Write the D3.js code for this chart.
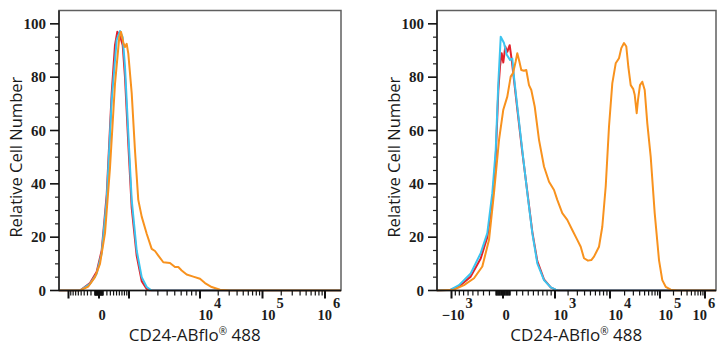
<!DOCTYPE html>
<html>
<head>
<meta charset="utf-8">
<script src="https://cdn.jsdelivr.net/npm/d3@7"></script>
<style>
  body { margin: 0; background: #fff; }
  svg { display: block; }
</style>
</head>
<body>
<script>
var width = 728,
    height = 350;

// fluorescence intensity (x) vs relative cell number (y)
var leftRed = [[-1500,0],[-540,0],[-227,2.8],[-54,7],[64,15],[195,36],[341,74],[447,92],[526,97],[624,95.5],[729,92],[823,80],[968,55],[1134,31],[1406,13],[1713,3.5],[2059,0.6],[2254,0],[1.8e6,0]];
var leftCyan = [[-1500,0],[-540,0],[-227,2.5],[-54,6.3],[64,14],[195,34],[341,71.5],[505,94],[624,97.3],[729,95],[823,84],[968,59],[1134,34],[1406,15],[1713,5],[2059,1.3],[2449,0],[1.8e6,0]];
var leftOrange = [[-1500,0],[-540,0],[-275,1.5],[-95,5],[23,10],[149,21.5],[289,46],[447,77.5],[598,95],[662,97],[753,93],[823,91.3],[896,92.5],[968,88.8],[1134,74],[1309,52.5],[1499,34],[1713,27.7],[2059,21.3],[2449,15.6],[2733,14.8],[3043,13.1],[3559,10.6],[4350,10.3],[5032,8.8],[5532,8.8],[6086,7.5],[6989,6],[8364,5.2],[10000,4.4],[12130,2.8],[15660,1.3],[21350,0.3],[30880,0],[1.8e6,0]];

var rightRed = [[-1450,0],[-1020,0.3],[-808,1.5],[-545,5.2],[-350,12],[-235,20],[-155,33],[-103,50],[-65,75],[-41,84],[-18,89],[4,85.5],[31,91.5],[59,89.5],[93,92],[123,86.5],[158,79],[210,68],[293,52],[383,37],[478,22],[580,11],[727,4.2],[889,1.2],[1044,0.2],[1200,0],[1.75e6,0]];
var rightCyan = [[-1450,0],[-1020,0.3],[-808,2],[-545,6.4],[-350,14],[-235,21.5],[-155,36.5],[-103,52.7],[-65,77.7],[-31,95.2],[13,92.8],[51,88.4],[98,86.5],[132,87],[158,80],[210,69],[293,52.6],[383,36.5],[478,21.5],[580,10.2],[727,3.9],[889,1.2],[1044,0.3],[1200,0],[1.75e6,0]];
var rightOrange = [[-1450,0],[-934,0.3],[-690,2],[-477,4.6],[-321,9],[-207,19],[-129,36.5],[-55,56.5],[4,67.8],[59,72.7],[108,80.2],[143,81.5],[184,85.9],[210,89],[243,86],[276,82.7],[323,82.4],[364,82.7],[414,77],[458,75.2],[526,69],[616,56.5],[727,46.5],[847,40.8],[974,37.7],[1147,34],[1507,29],[1927,26.5],[2418,22.7],[2991,19],[3437,16.4],[3914,12.1],[4562,11.2],[5160,11.4],[5699,12.7],[6821,16.4],[7663,23.9],[8630,39],[9666,61.5],[11180,77.7],[13170,85.2],[15390,87.1],[17160,90.9],[19470,92.8],[21670,91.5],[23760,84],[26550,77],[29910,75.5],[31890,73.4],[34930,66.5],[37090,71.5],[40600,77],[45060,78.3],[50260,75.2],[56520,62.7],[65850,50.2],[78860,29],[95640,11.4],[112500,3.9],[134100,1.4],[173200,0.3],[243100,0],[1.75e6,0]];

var xMajorTicks = [-1e3, 0, 1e3, 1e4, 1e5, 1e6];
var leftLabelTicks = [0, 1e4, 1e5, 1e6];
var rightLabelTicks = [-1e3, 0, 1e3, 1e4, 1e5, 1e6];
var yMajorTicks = [0, 20, 40, 60, 80, 100];
var xTitle = "CD24-ABflo";
var yTitle = "Relative Cell Number";
var seriesColors = ["#e3202a", "#3cc4ef", "#f8921e"];

createChart()

function createChart(){

  var svg = d3.select("body").append("svg")
      .attr("width", width)
      .attr("height", height);

  var panels = [
    {x0: 59, x1: 341, range: [68.5, 99, 129, 200, 262.5, 325], labels: leftLabelTicks, series: [leftRed, leftCyan, leftOrange]},
    {x0: 437, x1: 716, range: [451.5, 503, 555, 610, 660, 705], labels: rightLabelTicks, series: [rightRed, rightCyan, rightOrange]}
  ];
  var top = 10.5, bottom = 290.5;
  var tickFont = "bold 14.5px 'Liberation Serif', serif";

  var y = d3.scaleLinear().domain([0, 105]).range([bottom, top]);

  // minor ticks: crowded ones near zero, then 2..9 per decade
  var minor = [];
  [1, 2].forEach(function(e){
    for (var k = 1; k <= 9; k++) {
      var v = k * Math.pow(10, e);
      minor.push(v, -v);
    }
  });
  [3, 4, 5].forEach(function(e){
    for (var k = 2; k <= 9; k++) minor.push(k * Math.pow(10, e));
  });
  var yMinor = d3.range(5, 105, 5).filter(function(v){ return v % 20 != 0; });

  panels.forEach(function(p, i){
    var x = d3.scaleSymlog().constant(1000)
        .domain(xMajorTicks)
        .range(p.range);

    var g = svg.append("g");

    g.append("clipPath").attr("id", "clip" + i)
      .append("rect")
        .attr("x", p.x0).attr("y", top)
        .attr("width", p.x1 - p.x0).attr("height", bottom - top + 1);

    var line = d3.line()
        .x(function(d){ return x(d[0]); })
        .y(function(d){ return y(d[1]); });

    g.append("g").attr("clip-path", "url(#clip" + i + ")")
      .selectAll("path")
      .data(p.series).enter().append("path")
        .attr("d", line)
        .attr("fill", "none")
        .attr("stroke", function(d, j){ return seriesColors[j]; })
        .attr("stroke-width", 2)
        .attr("stroke-linejoin", "round");

    // frame
    g.append("rect")
        .attr("x", p.x0).attr("y", top)
        .attr("width", p.x1 - p.x0).attr("height", bottom - top)
        .attr("fill", "none")
        .attr("stroke", "#5f5f5f")
        .attr("stroke-width", 1.5);
    g.append("line")
        .attr("x1", p.x0).attr("x2", p.x0).attr("y1", top).attr("y2", bottom)
        .attr("stroke", "#222").attr("stroke-width", 1.5);
    g.append("line")
        .attr("x1", p.x0).attr("x2", p.x1).attr("y1", bottom).attr("y2", bottom)
        .attr("stroke", "#111").attr("stroke-width", 1.5);

    // y ticks
    g.selectAll("line.ymaj").data(yMajorTicks).enter().append("line")
        .attr("x1", p.x0 - 9).attr("x2", p.x0)
        .attr("y1", function(d){ return y(d); }).attr("y2", function(d){ return y(d); })
        .attr("stroke", "#111").attr("stroke-width", 1.6);
    g.selectAll("line.ymin").data(yMinor).enter().append("line")
        .attr("x1", p.x0 - 4).attr("x2", p.x0)
        .attr("y1", function(d){ return y(d); }).attr("y2", function(d){ return y(d); })
        .attr("stroke", "#222").attr("stroke-width", 1.2);
    g.selectAll("text.ylab").data(yMajorTicks).enter().append("text")
        .attr("x", p.x0 - 13)
        .attr("y", function(d){ return y(d); })
        .attr("dy", "0.35em")
        .attr("text-anchor", "end")
        .style("font", "bold 15px 'Liberation Serif', serif")
        .attr("fill", "#1c1c1c")
        .text(function(d){ return d; });

    // x ticks
    var minorIn = minor.filter(function(v){ var px = x(v); return px > p.x0 && px < p.x1; });
    g.selectAll("line.xmin").data(minorIn).enter().append("line")
        .attr("x1", function(d){ return x(d); }).attr("x2", function(d){ return x(d); })
        .attr("y1", bottom).attr("y2", bottom + 5)
        .attr("stroke", "#111").attr("stroke-width", 1.2);
    g.selectAll("line.xmaj").data(xMajorTicks).enter().append("line")
        .attr("x1", function(d){ return x(d); }).attr("x2", function(d){ return x(d); })
        .attr("y1", bottom).attr("y2", bottom + 8)
        .attr("stroke", "#111").attr("stroke-width", 2);

    // x tick labels: "10" base with the exponent raised beside it
    var last = p.labels[p.labels.length - 1];
    p.labels.forEach(function(d){
      if (d === 0) {
        g.append("text")
          .attr("x", x(0) + 3).attr("y", 320)
          .attr("text-anchor", "middle")
          .style("font", tickFont).attr("fill", "#1c1c1c")
          .text("0");
        return;
      }
      var joint = d === last ? p.x1 - 9 : x(d) + 13;
      g.append("text")
        .attr("x", joint).attr("y", 320)
        .attr("text-anchor", "end")
        .style("font", tickFont).attr("fill", "#1c1c1c")
        .text(d < 0 ? "\u221210" : "10");
      g.append("text")
        .attr("x", joint + 1).attr("y", 308)
        .attr("text-anchor", "start")
        .style("font", tickFont).attr("fill", "#1c1c1c")
        .text(Math.round(Math.log10(Math.abs(d))));
    });

    // axis titles
    var xt = g.append("text")
        .attr("x", (p.range[0] + p.range[p.range.length - 1]) / 2 - 2)
        .attr("y", 341)
        .attr("text-anchor", "middle")
        .style("font", "17px 'Open Sans', sans-serif")
        .attr("fill", "#1a1a1a");
    xt.append("tspan").text(xTitle);
    xt.append("tspan").attr("dy", -6).style("font-size", "10px").text("\u00ae");
    xt.append("tspan").attr("dy", 6).text(" 488");

    g.append("text")
        .attr("transform", "translate(" + (p.x0 - 43) + "," + y(50) + ") rotate(-90)")
        .attr("dy", "0.35em")
        .attr("text-anchor", "middle")
        .style("font", "16.5px 'Open Sans', sans-serif")
        .attr("fill", "#1a1a1a")
        .text(yTitle);
  });
}
</script>
</body>
</html>
